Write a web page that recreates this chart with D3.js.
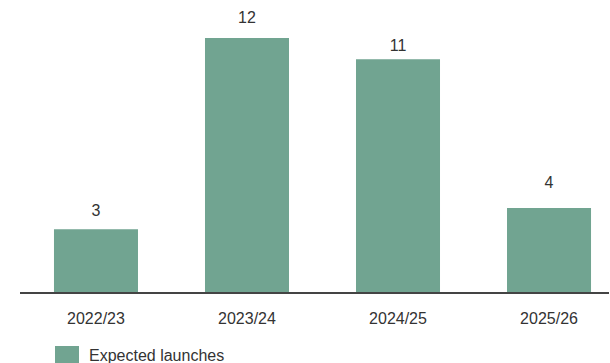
<!DOCTYPE html>
<html>
<head>
<meta charset="utf-8">
<script src="https://cdn.jsdelivr.net/npm/d3@7"></script>
<style>
  html, body { margin: 0; padding: 0; background: #fff; }
  svg { display: block; font-family: "Liberation Sans", Arial, sans-serif; }
</style>
</head>
<body>
<svg id="chart" width="610" height="363"></svg>
<script>
const categories = ["2022/23", "2023/24", "2024/25", "2025/26"];
const launches = [3, 12, 11, 4];
const seriesName = "Expected launches";

const W = 610, H = 363;
const svg = d3.select("#chart");
const barColor = "#71a491";
const textColor = "#333333";

const baseY = 293;
const x = d3.scaleBand()
  .domain(categories)
  .range([20, 625])
  .paddingInner(67 / 151)
  .paddingOuter(0.225);

const y = d3.scaleLinear()
  .domain([0, 12])
  .range([baseY, 38]);

svg.append("g")
  .selectAll("rect")
  .data(categories)
  .join("rect")
  .attr("x", d => x(d))
  .attr("y", (d, i) => y(launches[i]))
  .attr("width", x.bandwidth())
  .attr("height", (d, i) => baseY - y(launches[i]))
  .attr("fill", barColor);

// gap between label baseline and bar top, as in the original layout
const labelGap = [13, 15, 8, 20];
svg.append("g")
  .selectAll("text")
  .data(categories)
  .join("text")
  .attr("x", d => x(d) + x.bandwidth() / 2)
  .attr("y", (d, i) => y(launches[i]) - labelGap[i])
  .attr("text-anchor", "middle")
  .attr("font-size", 16)
  .attr("fill", textColor)
  .text((d, i) => launches[i]);

// x axis
const axis = svg.append("g")
  .attr("transform", `translate(0,${baseY})`)
  .call(d3.axisBottom(x).tickSize(0).tickPadding(19.5));
axis.select(".domain").remove();
axis.selectAll("text")
  .attr("font-size", 16)
  .attr("font-family", "Liberation Sans, Arial, sans-serif")
  .attr("fill", textColor);

svg.append("line")
  .attr("x1", 20).attr("x2", W - 1)
  .attr("y1", baseY).attr("y2", baseY)
  .attr("stroke", "#444")
  .attr("stroke-width", 2);

// legend
const lg = svg.append("g");
lg.append("rect")
  .attr("x", 55).attr("y", 346)
  .attr("width", 24).attr("height", 17)
  .attr("fill", barColor);
lg.append("text")
  .attr("x", 89).attr("y", 355)
  .attr("dy", "0.35em")
  .attr("font-size", 16)
  .attr("fill", textColor)
  .text(seriesName);
</script>
</body>
</html>
